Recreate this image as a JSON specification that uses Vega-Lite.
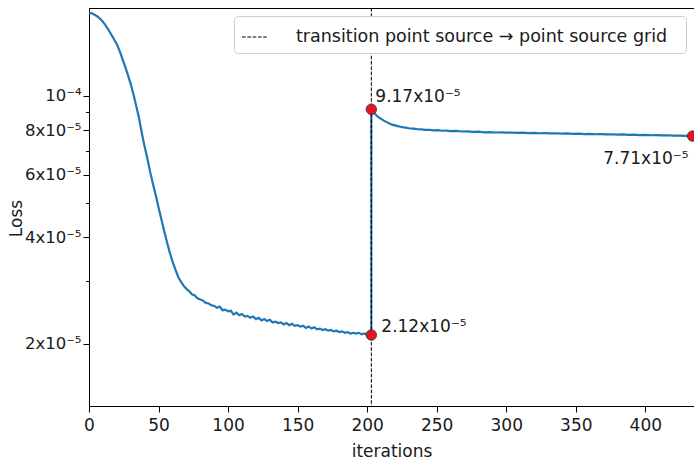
{
  "$schema": "https://vega.github.io/schema/vega-lite/v6.json",
  "width": 605,
  "height": 398,
  "autosize": {"type": "none"},
  "padding": {"left": 89, "top": 8, "right": 0, "bottom": 57},
  "config": {
    "font": "DejaVu Sans",
    "view": {"stroke": "black", "strokeWidth": 1},
    "axis": {
      "labelFont": "DejaVu Sans", "titleFont": "DejaVu Sans",
      "labelFontSize": 17, "titleFontSize": 17, "titleFontWeight": "normal",
      "labelColor": "#1a1a1a", "titleColor": "#1a1a1a",
      "domainColor": "black", "tickColor": "black", "grid": false
    }
  },
  "datasets": {
    "loss": [
      {"it":0,"loss":1.72e-4},{"it":2,"loss":1.71e-4},{"it":4,"loss":1.695e-4},{"it":6,"loss":1.675e-4},{"it":8,"loss":1.65e-4},
      {"it":10,"loss":1.62e-4},{"it":12,"loss":1.58e-4},{"it":14,"loss":1.535e-4},{"it":16,"loss":1.49e-4},{"it":18,"loss":1.445e-4},
      {"it":20,"loss":1.40e-4},{"it":22,"loss":1.34e-4},{"it":24,"loss":1.275e-4},{"it":26,"loss":1.21e-4},{"it":28,"loss":1.145e-4},
      {"it":30,"loss":1.08e-4},{"it":32,"loss":1.01e-4},{"it":34,"loss":9.35e-5},{"it":36,"loss":8.65e-5},{"it":38,"loss":7.85e-5},
      {"it":40,"loss":7.2e-5},{"it":42,"loss":6.65e-5},{"it":44,"loss":6.1e-5},{"it":46,"loss":5.65e-5},{"it":48,"loss":5.25e-5},
      {"it":50,"loss":4.85e-5},{"it":52,"loss":4.5e-5},{"it":54,"loss":4.17e-5},{"it":56,"loss":3.88e-5},{"it":58,"loss":3.63e-5},
      {"it":60,"loss":3.42e-5},{"it":62,"loss":3.25e-5},{"it":64,"loss":3.1e-5},{"it":66,"loss":3.0e-5},{"it":68,"loss":2.92e-5},
      {"it":70,"loss":2.86e-5},{"it":72,"loss":2.82e-5},{"it":74,"loss":2.76e-5},{"it":76,"loss":2.74e-5},{"it":78,"loss":2.69e-5},
      {"it":80,"loss":2.67e-5},{"it":82,"loss":2.65e-5},{"it":84,"loss":2.61e-5},{"it":86,"loss":2.6e-5},{"it":88,"loss":2.57e-5},
      {"it":90,"loss":2.56e-5},{"it":92,"loss":2.53e-5},{"it":94,"loss":2.55e-5},{"it":96,"loss":2.49e-5},{"it":98,"loss":2.5e-5},
      {"it":100,"loss":2.47e-5},{"it":102,"loss":2.48e-5},{"it":104,"loss":2.42e-5},{"it":106,"loss":2.45e-5},{"it":108,"loss":2.41e-5},
      {"it":110,"loss":2.43e-5},{"it":112,"loss":2.39e-5},{"it":114,"loss":2.4e-5},{"it":116,"loss":2.37e-5},{"it":118,"loss":2.39e-5},
      {"it":120,"loss":2.35e-5},{"it":122,"loss":2.37e-5},{"it":124,"loss":2.33e-5},{"it":126,"loss":2.35e-5},{"it":128,"loss":2.32e-5},
      {"it":130,"loss":2.34e-5},{"it":132,"loss":2.3e-5},{"it":134,"loss":2.31e-5},{"it":136,"loss":2.29e-5},{"it":138,"loss":2.3e-5},
      {"it":140,"loss":2.27e-5},{"it":142,"loss":2.29e-5},{"it":144,"loss":2.26e-5},{"it":146,"loss":2.28e-5},{"it":148,"loss":2.25e-5},
      {"it":150,"loss":2.26e-5},{"it":152,"loss":2.24e-5},{"it":154,"loss":2.25e-5},{"it":156,"loss":2.22e-5},{"it":158,"loss":2.24e-5},
      {"it":160,"loss":2.21e-5},{"it":162,"loss":2.23e-5},{"it":164,"loss":2.2e-5},{"it":166,"loss":2.21e-5},{"it":168,"loss":2.19e-5},
      {"it":170,"loss":2.2e-5},{"it":172,"loss":2.18e-5},{"it":174,"loss":2.19e-5},{"it":176,"loss":2.17e-5},{"it":178,"loss":2.18e-5},
      {"it":180,"loss":2.16e-5},{"it":182,"loss":2.17e-5},{"it":184,"loss":2.15e-5},{"it":186,"loss":2.16e-5},{"it":188,"loss":2.14e-5},
      {"it":190,"loss":2.15e-5},{"it":192,"loss":2.14e-5},{"it":194,"loss":2.15e-5},{"it":196,"loss":2.13e-5},{"it":198,"loss":2.14e-5},
      {"it":200,"loss":2.12e-5},{"it":202,"loss":2.13e-5},{"it":203,"loss":2.12e-5},
      {"it":203,"loss":9.17e-5},{"it":204,"loss":9.05e-5},{"it":205,"loss":8.95e-5},{"it":206,"loss":8.88e-5},{"it":207,"loss":8.8e-5},
      {"it":208,"loss":8.72e-5},{"it":210,"loss":8.62e-5},{"it":212,"loss":8.52e-5},{"it":214,"loss":8.44e-5},{"it":216,"loss":8.36e-5},
      {"it":218,"loss":8.3e-5},{"it":220,"loss":8.26e-5},{"it":222,"loss":8.22e-5},{"it":224,"loss":8.19e-5},{"it":226,"loss":8.16e-5},
      {"it":228,"loss":8.14e-5},{"it":230,"loss":8.11e-5},{"it":233,"loss":8.09e-5},{"it":236,"loss":8.06e-5},{"it":239,"loss":8.05e-5},
      {"it":242,"loss":8.03e-5},{"it":245,"loss":8.02e-5},{"it":248,"loss":8.0e-5},{"it":251,"loss":8.01e-5},{"it":254,"loss":7.98e-5},
      {"it":257,"loss":7.99e-5},{"it":260,"loss":7.96e-5},{"it":264,"loss":7.97e-5},{"it":268,"loss":7.94e-5},{"it":272,"loss":7.95e-5},
      {"it":276,"loss":7.92e-5},{"it":280,"loss":7.93e-5},{"it":284,"loss":7.9e-5},{"it":288,"loss":7.91e-5},{"it":292,"loss":7.89e-5},
      {"it":296,"loss":7.9e-5},{"it":300,"loss":7.88e-5},{"it":304,"loss":7.89e-5},{"it":308,"loss":7.87e-5},{"it":312,"loss":7.88e-5},
      {"it":316,"loss":7.86e-5},{"it":320,"loss":7.87e-5},{"it":324,"loss":7.85e-5},{"it":328,"loss":7.86e-5},{"it":332,"loss":7.84e-5},
      {"it":336,"loss":7.85e-5},{"it":340,"loss":7.83e-5},{"it":344,"loss":7.84e-5},{"it":348,"loss":7.82e-5},{"it":352,"loss":7.83e-5},
      {"it":356,"loss":7.81e-5},{"it":360,"loss":7.82e-5},{"it":364,"loss":7.8e-5},{"it":368,"loss":7.81e-5},{"it":372,"loss":7.79e-5},
      {"it":376,"loss":7.8e-5},{"it":380,"loss":7.78e-5},{"it":384,"loss":7.79e-5},{"it":388,"loss":7.77e-5},{"it":392,"loss":7.78e-5},
      {"it":396,"loss":7.76e-5},{"it":400,"loss":7.77e-5},{"it":404,"loss":7.75e-5},{"it":408,"loss":7.76e-5},{"it":412,"loss":7.74e-5},
      {"it":416,"loss":7.75e-5},{"it":420,"loss":7.73e-5},{"it":424,"loss":7.73e-5},{"it":428,"loss":7.72e-5},{"it":432,"loss":7.72e-5},
      {"it":434,"loss":7.71e-5}
    ],
    "pts": [
      {"it":203,"loss":2.12e-5,"label":"2.12x10⁻⁵","pos":"low"},
      {"it":203,"loss":9.17e-5,"label":"9.17x10⁻⁵","pos":"peak"},
      {"it":434,"loss":7.71e-5,"label":"7.71x10⁻⁵","pos":"end"}
    ],
    "trans": [
      {"it":203,"series":"transition point source  →  point source grid"}
    ]
  },
  "layer": [
    {
      "data": {"name": "loss"},
      "mark": {"type": "line", "color": "#1f77b4", "strokeWidth": 2.2, "clip": true},
      "encoding": {
        "x": {
          "field": "it", "type": "quantitative",
          "scale": {"domain": [0, 435], "nice": false, "zero": false},
          "axis": {"values": [0,50,100,150,200,250,300,350,400], "title": "iterations", "tickSize": 6, "labelPadding": 5, "titlePadding": 10, "labelFlush": false}
        },
        "y": {
          "field": "loss", "type": "quantitative",
          "scale": {"type": "log", "domain": [1.337e-5, 1.77e-4], "nice": false},
          "axis": {
            "values": [2e-5,3e-5,4e-5,5e-5,6e-5,7e-5,8e-5,9e-5,1e-4],
            "labelExpr": "round(datum.value*1e6)==100 ? '10⁻⁴' : (round(datum.value*1e6)%20==0 ? (round(datum.value*1e5)+'x10⁻⁵') : '')",
            "tickSize": {"condition": {"test": "round(datum.value*1e6)%20==10 && round(datum.value*1e6)!=100", "value": 3.5}, "value": 6},
            "title": "Loss", "labelPadding": 2, "labelFontSize": 16.5,
            "titleX": -73, "titleY": 210, "titleAlign": "center", "titleBaseline": "middle", "titleAngle": -90
          }
        },
        "order": [{"field": "it", "type": "quantitative"}, {"field": "loss", "type": "quantitative"}]
      }
    },
    {
      "data": {"name": "trans"},
      "mark": {"type": "rule", "color": "black", "strokeWidth": 1},
      "encoding": {
        "x": {"field": "it", "type": "quantitative"},
        "strokeDash": {
          "field": "series", "type": "nominal",
          "scale": {"range": [[3.7, 1.6]]},
          "legend": {
            "title": null, "orient": "top-right", "offset": 8,
            "labelFontSize": 17.5, "labelFont": "DejaVu Sans", "labelColor": "#1a1a1a", "labelLimit": 0,
            "symbolType": "stroke", "symbolStrokeColor": "black", "symbolStrokeWidth": 1,
            "symbolSize": 680, "labelOffset": 27,
            "fillColor": "white", "strokeColor": "#cccccc", "cornerRadius": 4, "padding": 7
          }
        }
      }
    },
    {
      "data": {"name": "pts"},
      "mark": {"type": "point", "filled": true, "fill": "#e8141c", "stroke": "#333333", "strokeWidth": 0.8, "size": 110, "opacity": 1, "clip": false},
      "encoding": {
        "x": {"field": "it", "type": "quantitative"},
        "y": {"field": "loss", "type": "quantitative"}
      }
    },
    {
      "data": {"name": "pts"},
      "transform": [{"filter": "datum.pos == 'peak'"}],
      "mark": {"type": "text", "align": "left", "baseline": "middle", "dx": 4, "dy": -12, "fontSize": 17, "color": "#1a1a1a"},
      "encoding": {
        "x": {"field": "it", "type": "quantitative"},
        "y": {"field": "loss", "type": "quantitative"},
        "text": {"field": "label"}
      }
    },
    {
      "data": {"name": "pts"},
      "transform": [{"filter": "datum.pos == 'low'"}],
      "mark": {"type": "text", "align": "left", "baseline": "middle", "dx": 10, "dy": -8, "fontSize": 17, "color": "#1a1a1a"},
      "encoding": {
        "x": {"field": "it", "type": "quantitative"},
        "y": {"field": "loss", "type": "quantitative"},
        "text": {"field": "label"}
      }
    },
    {
      "data": {"name": "pts"},
      "transform": [{"filter": "datum.pos == 'end'"}],
      "mark": {"type": "text", "align": "right", "baseline": "middle", "dx": -4, "dy": 23, "fontSize": 17, "color": "#1a1a1a"},
      "encoding": {
        "x": {"field": "it", "type": "quantitative"},
        "y": {"field": "loss", "type": "quantitative"},
        "text": {"field": "label"}
      }
    }
  ]
}
